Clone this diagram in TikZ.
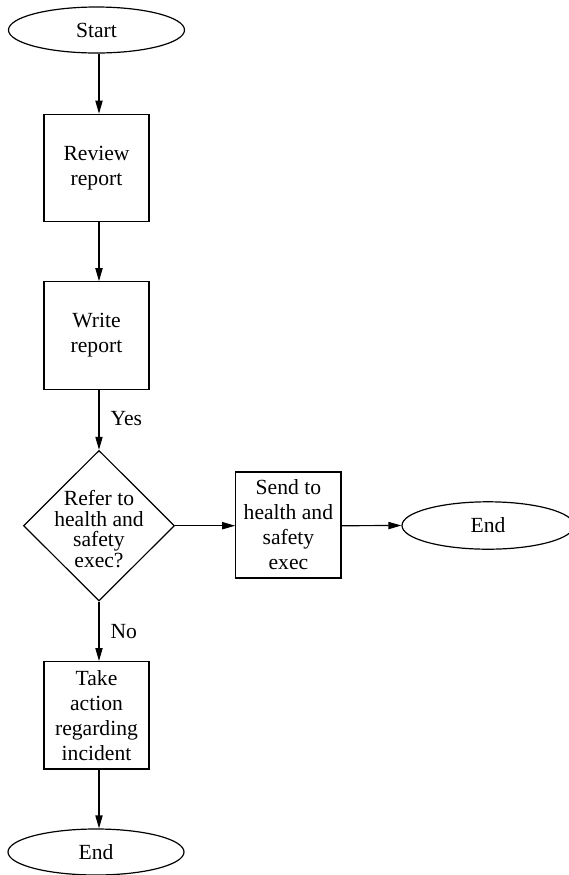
\documentclass[tikz,border=0pt]{standalone}
\usepackage{fontspec}
\setmainfont{Liberation Serif}
\usetikzlibrary{shapes.geometric,arrows.meta}
\begin{document}
\begin{tikzpicture}[x=0.5pt,y=-0.5pt,
  every node/.style={font=\fontsize{10.8pt}{12.5pt}\selectfont},
  terminal/.style={draw,ellipse,inner sep=0pt,line width=0.6pt},
  procbox/.style={draw,rectangle,align=center,inner sep=0pt,line width=0.6pt,
    minimum width=52.5pt,minimum height=53.7pt},
  decision/.style={draw,diamond,inner sep=0pt,line width=0.6pt,
    minimum width=75.5pt,minimum height=75.3pt},
  arr/.style={line width=0.6pt,-{Triangle[length=6.5pt,width=3.6pt]}},
  lbl/.style={inner sep=0pt,anchor=west,xshift=5.5pt}]
\useasboundingbox (0,0) rectangle (569,875);
\node[terminal,minimum width=88pt,minimum height=23pt] (start) at (96.5,30) {Start};
\node[procbox] (review) at (96.5,168) {Review\\report};
\node[procbox] (write) at (96.5,335.5) {Write\\report};
\node[decision] (dec) at (99,525.7) {};
\node[align=center,inner sep=0pt,font=\fontsize{10.8pt}{10.3pt}\selectfont] (dectext) at (99,529) {Refer to\\health and\\safety\\exec?};
\node[procbox,minimum width=52.6pt,minimum height=53pt] (send) at (288.4,525) {Send to\\health and\\safety\\exec};
\node[terminal,minimum width=86pt,minimum height=23.7pt] (endr) at (488,525.5) {End};
\node[procbox] (take) at (96.5,715.3) {Take\\action\\regarding\\incident};
\node[terminal,minimum width=88pt,minimum height=23pt] (endb) at (96,852) {End};

\draw[arr] (start.south -| dec.north) -- (review.north -| dec.north);
\draw[arr] (review.south -| dec.north) -- (write.north -| dec.north);
\draw[arr] (write.south -| dec.north) -- node[lbl,pos=0.48] (yes) {Yes} (dec.north);
\draw[arr] (dec.south) -- node[lbl,pos=0.5] (no) {No} (take.north -| dec.south);
\draw[arr] (take.south -| dec.south) -- (endb.north -| dec.south);
\draw[arr] (dec.east) -- (send.west |- dec.east);
\draw[arr] (send.east |- dec.east) -- (endr.west);
\end{tikzpicture}
\end{document}
